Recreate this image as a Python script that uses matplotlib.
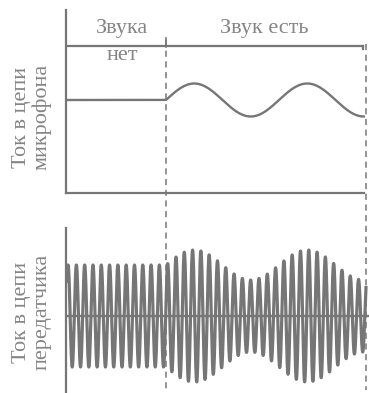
import numpy as np
import matplotlib
matplotlib.use("Agg")
import matplotlib.pyplot as plt
from matplotlib.lines import Line2D
from matplotlib.transforms import blended_transform_factory

# ---- values ----
t_start, t_onset, t_end = 0.0, 1.0, 3.0          # time (onset of sound at t=1)
mic_period = 1.13                                 # microphone signal period
mic_amplitude = 16.5                              # microphone signal amplitude
carrier_period = 0.083                            # carrier period
carrier_amplitude = 51.0                          # carrier amplitude without sound
modulation_depth = 15.0                           # change of amplitude with sound
bar_level = 54.0                                  # level of the top bar line
labels_top = ["Звука", "нет", "Звук есть"]
ylabel_top = "Ток в цепи\nмикрофона"
ylabel_bottom = "Ток в цепи\nпередатчика"

W, H = 369, 393
fig = plt.figure(figsize=(W / 100, H / 100), dpi=100)
col = "#767676"
tcol = "#858585"
font = "Liberation Serif"

def rect(x0, y0, x1, y1):
    return [x0 / W, 1 - y1 / H, (x1 - x0) / W, (y1 - y0) / H]

ax1 = fig.add_axes(rect(66, 10, 369, 193))
ax2 = fig.add_axes(rect(66, 228, 369, 393))
for ax in (ax1, ax2):
    ax.set_xlim(0, 3.03)
    ax.set_xticks([])
    ax.set_yticks([])
    for s in ("top", "right"):
        ax.spines[s].set_visible(False)
    ax.spines["left"].set_color(col)
    ax.spines["left"].set_linewidth(1.6)
ax1.set_ylim(-93, 90)
ax2.set_ylim(-77, 88)
ax1.spines["bottom"].set_color(col)
ax1.spines["bottom"].set_linewidth(1.6)
ax1.spines["bottom"].set_bounds(0, 2.98)
ax2.spines["bottom"].set_visible(False)

# microphone current
t = np.linspace(t_start, t_end - 0.01, 3000)
phase = np.where(t >= t_onset, 2 * np.pi * (t - t_onset) / mic_period, 0.0)
mic = np.where(t >= t_onset, mic_amplitude * np.sin(phase), 0.0)
ax1.plot(t, mic, color=col, lw=1.7, solid_capstyle="butt")
ax1.plot([0.02, 2.97], [bar_level, bar_level], color=col, lw=1.6)
ax1.plot([2.97, 2.97], [bar_level, bar_level - 3], color=col, lw=1.6)

# transmitter current
tc = np.linspace(t_start + 0.01, t_end, 12000)
ph = np.where(tc >= t_onset, 2 * np.pi * (tc - t_onset) / mic_period, 0.0)
env = carrier_amplitude + np.where(tc >= t_onset, modulation_depth * np.sin(ph), 0.0)
carrier = env * np.sin(2 * np.pi * tc / carrier_period)
ax2.plot(tc, carrier, color=col, lw=2.3)
ax2.plot([0, 3.03], [0, 0], color=col, lw=1.7)

# dashed verticals spanning both panels
tr = blended_transform_factory(ax1.transData, fig.transFigure)
for xv, y0 in ((t_onset, 40), (t_end, 44)):
    fig.add_artist(Line2D([xv, xv], [1 - y0 / H, 1 - 390 / H], transform=tr,
                          color=col, lw=1.1, ls=(0, (4, 3))))
fig.add_artist(Line2D([t_onset, t_onset], [1 - 38 / H, 1 - 47 / H], transform=tr,
                      color=col, lw=1.2))

def ftext(x, y, s, **kw):
    fig.text(x / W, 1 - y / H, s, color=tcol, family=font, ha="center",
             va="center", **kw)

ftext(122, 29, labels_top[0], fontsize=16)
ftext(122, 56, labels_top[1], fontsize=16)
ftext(264, 29, labels_top[2], fontsize=16)
ftext(32, 117, ylabel_top, fontsize=16, rotation=90, linespacing=1.1)
ftext(32, 312, ylabel_bottom, fontsize=16, rotation=90, linespacing=1.1)

fig.savefig("out.png", dpi=100, facecolor="white")
